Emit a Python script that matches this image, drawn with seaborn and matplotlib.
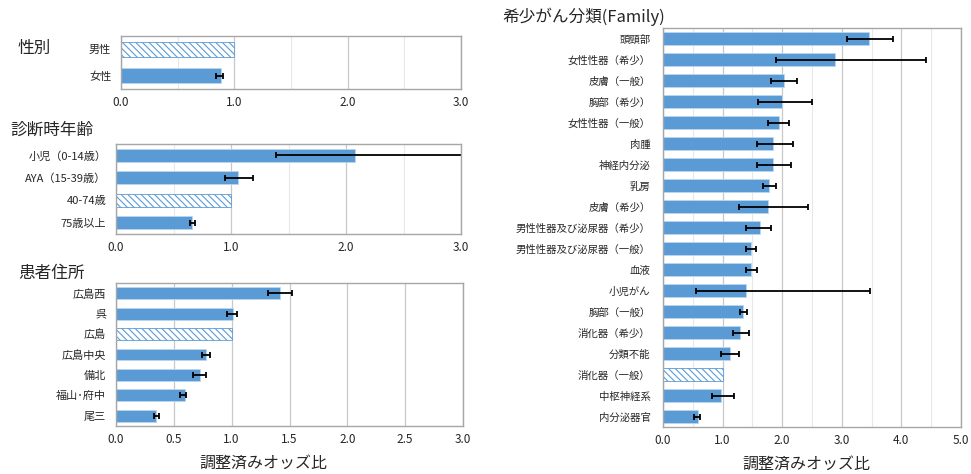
import numpy as np
import pandas as pd
import seaborn as sns
import matplotlib.pyplot as plt
from matplotlib.ticker import FormatStrFormatter

# 性別
sex_labels = ['男性', '女性']
sex_or = [1.00, 0.88]
sex_lo = [np.nan, 0.84]
sex_hi = [np.nan, 0.90]
sex_ref = '男性'

# 診断時年齢
age_labels = ['小児（0-14歳）', 'AYA（15-39歳）', '40-74歳', '75歳以上']
age_or = [2.08, 1.06, 1.00, 0.66]
age_lo = [1.39, 0.95, np.nan, 0.645]
age_hi = [3.15, 1.19, np.nan, 0.685]
age_ref = '40-74歳'

# 患者住所
area_labels = ['広島西', '呉', '広島', '広島中央', '備北', '福山･府中', '尾三']
area_or = [1.42, 1.01, 1.00, 0.78, 0.73, 0.60, 0.35]
area_lo = [1.31, 0.96, np.nan, 0.74, 0.67, 0.556, 0.325]
area_hi = [1.52, 1.05, np.nan, 0.81, 0.78, 0.605, 0.37]
area_ref = '広島'

# 希少がん分類(Family)
fam_labels = ['頭頸部', '女性性器（希少）', '皮膚（一般）', '胸部（希少）', '女性性器（一般）',
              '肉腫', '神経内分泌', '乳房', '皮膚（希少）', '男性性器及び泌尿器（希少）',
              '男性性器及び泌尿器（一般）', '血液', '小児がん', '胸部（一般）', '消化器（希少）',
              '分類不能', '消化器（一般）', '中枢神経系', '内分泌器官']
fam_or = [3.46, 2.89, 2.03, 2.00, 1.94, 1.85, 1.85, 1.78, 1.76, 1.62,
          1.48, 1.48, 1.39, 1.35, 1.30, 1.12, 1.00, 0.98, 0.58]
fam_lo = [3.09, 1.89, 1.82, 1.59, 1.77, 1.57, 1.57, 1.68, 1.27, 1.40,
          1.40, 1.39, 0.55, 1.29, 1.18, 0.98, np.nan, 0.82, 0.52]
fam_hi = [3.86, 4.41, 2.25, 2.50, 2.11, 2.18, 2.15, 1.89, 2.44, 1.82,
          1.56, 1.57, 3.47, 1.41, 1.44, 1.28, np.nan, 1.19, 0.62]
fam_ref = '消化器（一般）'

BLUE = '#5B9BD5'
TEXT = '#262626'

sns.set_style('white')
plt.rcParams['font.family'] = ['Noto Sans CJK JP', 'DejaVu Sans']
plt.rcParams['hatch.linewidth'] = 0.8

W, H = 971, 474
fig = plt.figure(figsize=(W / 100, H / 100), dpi=100)


def box(x0, y0, x1, y1):
    # pixel box -> figure fraction
    return [x0 / W, 1 - y1 / H, (x1 - x0) / W, (y1 - y0) / H]


def draw(ax, labels, odds, lo, hi, ref, xmax, step, minor=True, ysize=8, ypad=7):
    df = pd.DataFrame({'label': labels, 'or': odds})
    sns.barplot(data=df, x='or', y='label', orient='h', color=BLUE,
                saturation=1, width=0.58, edgecolor='#bcd6ee', linewidth=0.6, ax=ax)
    for patch, lab in zip(ax.patches, labels):
        if lab == ref:
            patch.set_facecolor('white')
            patch.set_edgecolor(BLUE)
            patch.set_hatch('\\\\\\\\\\')
    odds = np.array(odds)
    lo = np.array(lo)
    hi = np.array(hi)
    y = np.arange(len(labels))
    m = ~np.isnan(lo)
    ax.errorbar(odds[m], y[m], xerr=[odds[m] - lo[m], hi[m] - odds[m]], fmt='none',
                ecolor='black', elinewidth=1.3, capsize=2.2, capthick=1.3)
    ax.set_xlim(0, xmax)
    ax.set_ylim(len(labels) - 0.5, -0.5)
    ax.set_xticks(np.arange(0, xmax + 0.01, step))
    ax.xaxis.set_major_formatter(FormatStrFormatter('%.1f'))
    if minor:
        ax.set_xticks(np.arange(0, xmax + 0.01, 0.5), minor=True)
        ax.grid(axis='x', which='minor', color='#e8e8e8', linewidth=0.8)
    ax.grid(axis='x', which='major', color='#c8c8c8', linewidth=0.9)
    ax.set_axisbelow(True)
    for s in ax.spines.values():
        s.set_color('#a6a6a6')
        s.set_linewidth(1.0)
    ax.tick_params(axis='both', which='both', length=0, colors=TEXT)
    ax.tick_params(axis='x', labelsize=8.5, pad=5)
    ax.tick_params(axis='y', labelsize=ysize, pad=ypad)
    ax.set_xlabel('')
    ax.set_ylabel('')


ax1 = fig.add_axes(box(121, 36, 461, 89))
draw(ax1, sex_labels, sex_or, sex_lo, sex_hi, sex_ref, 3.0, 1.0)

ax2 = fig.add_axes(box(116, 144, 461, 234))
draw(ax2, age_labels, age_or, age_lo, age_hi, age_ref, 3.0, 1.0)

ax3 = fig.add_axes(box(116, 283, 463, 426))
draw(ax3, area_labels, area_or, area_lo, area_hi, area_ref, 3.0, 0.5, minor=False)
ax3.set_xlabel('調整済みオッズ比', fontsize=11.5, color=TEXT)
ax3.xaxis.set_label_coords(0.424, -0.20)

ax4 = fig.add_axes(box(663, 28, 961, 427))
draw(ax4, fam_labels, fam_or, fam_lo, fam_hi, fam_ref, 5.0, 1.0, ysize=7.5, ypad=9)
ax4.set_xlabel('調整済みオッズ比', fontsize=11.5, color=TEXT)
ax4.xaxis.set_label_coords(0.482, -0.072)

fig.text(18 / W, 1 - 48 / H, '性別', fontsize=12, color=TEXT, va='center')
fig.text(10 / W, 1 - 130 / H, '診断時年齢', fontsize=12, color=TEXT, va='center')
fig.text(18 / W, 1 - 273 / H, '患者住所', fontsize=12, color=TEXT, va='center')
fig.text(502 / W, 1 - 17 / H, '希少がん分類(Family)', fontsize=12, color=TEXT, va='center')

fig.savefig('out.png', dpi=100, facecolor='white')
